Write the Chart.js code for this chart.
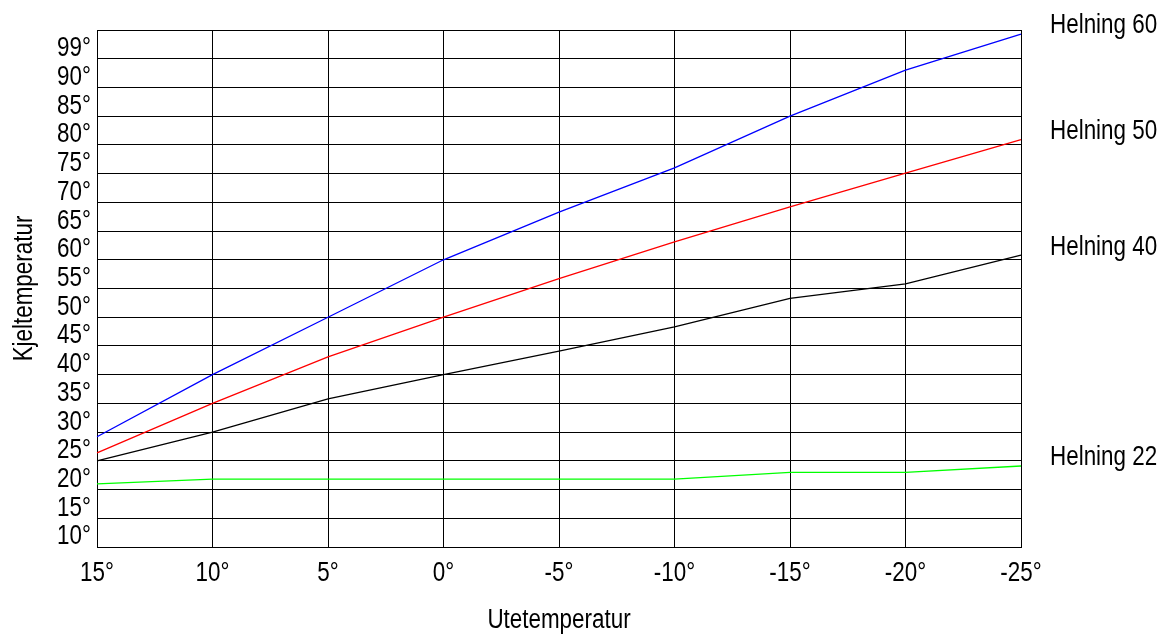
<!DOCTYPE html>
<html>
<head>
<meta charset="utf-8">
<script src="https://cdn.jsdelivr.net/npm/chart.js@4.4.1/dist/chart.umd.min.js"></script>
<style>
  html, body { margin: 0; padding: 0; background: #fff; }
  #wrap { width: 1167px; height: 634px; position: relative; }
</style>
</head>
<body>
<div id="wrap"><canvas id="heatCanvas"></canvas></div>
<script>
// Outdoor temperature categories (x axis)
const outdoorTemps = ['15°', '10°', '5°', '0°', '-5°', '-10°', '-15°', '-20°', '-25°'];

// Boiler temperature tick labels, one per grid line from 10 up to 100 (the top line has none)
const yTickValues = [10, 15, 20, 25, 30, 35, 40, 45, 50, 55, 60, 65, 70, 75, 80, 85, 90, 95, 100];
const yTickLabels = ['10°', '15°', '20°', '25°', '30°', '35°', '40°', '45°', '50°', '55°', '60°', '65°', '70°', '75°', '80°', '85°', '90°', '99°', ''];

// Heating curves
const helning60 = [29.2, 40, 50, 60, 68.3, 76, 85, 93, 99.3];
const helning50 = [26.4, 35, 43.1, 50, 56.7, 63.1, 69.2, 75.1, 80.9];
const helning40 = [25, 30, 35.8, 40, 44.1, 48.3, 53.3, 55.8, 60.8];
const helning22 = [21, 21.8, 21.8, 21.8, 21.8, 21.8, 23, 23, 24.1];

const seriesNames = ['Helning 60', 'Helning 50', 'Helning 40', 'Helning 22'];

const FONT = "'Liberation Sans Narrow', 'Arial Narrow', 'Liberation Sans', Arial, sans-serif";
const NARROW = 0.83; // no narrow font installed, so squeeze the regular one
Chart.defaults.font.family = FONT;
Chart.defaults.color = '#000';

function narrowText(ctx, text, x, y, align, angle) {
    ctx.save();
    ctx.translate(x, y);
    if (angle) ctx.rotate(angle);
    ctx.scale(NARROW, 1);
    ctx.textAlign = align;
    ctx.fillText(text, 0, 0);
    ctx.restore();
}

// Draws tick labels, axis titles and the curve names in a narrow face
const textPlugin = {
    id: 'textPlugin',
    afterDraw(chart) {
        const ctx = chart.ctx;
        const area = chart.chartArea;
        const xScale = chart.scales.x;
        const yScale = chart.scales.y;
        ctx.save();
        ctx.fillStyle = '#000';
        ctx.font = '27px ' + FONT;
        ctx.textBaseline = 'middle';

        // y tick labels sit just above their grid line
        yTickValues.forEach((v, i) => {
            narrowText(ctx, yTickLabels[i], area.left - 6, yScale.getPixelForValue(v) - 10, 'right');
        });

        // x tick labels
        outdoorTemps.forEach((t, i) => {
            narrowText(ctx, t, xScale.getPixelForValue(i), area.bottom + 27, 'center');
        });

        // curve names, slightly above the end of each line
        chart.data.datasets.forEach(ds => {
            const last = ds.data[ds.data.length - 1];
            narrowText(ctx, ds.label, area.right + 29, yScale.getPixelForValue(last) - 8, 'left');
        });

        // axis titles
        narrowText(ctx, 'Utetemperatur', (area.left + area.right) / 2, 621, 'center');
        narrowText(ctx, 'Kjeltemperatur', 25, (area.top + area.bottom) / 2, 'center', -Math.PI / 2);
        ctx.restore();
    }
};

function line(label, data, color) {
    return {
        label: label,
        data: data,
        borderColor: color,
        backgroundColor: color,
        borderWidth: 1.3,
        pointRadius: 0,
        tension: 0,
        fill: false
    };
}

const ctx = document.getElementById('heatCanvas').getContext('2d');
const heatChart = new Chart(ctx, {
    type: 'line',
    data: {
        labels: outdoorTemps,
        datasets: [
            line(seriesNames[0], helning60, '#0000ff'),
            line(seriesNames[1], helning50, '#ff0000'),
            line(seriesNames[2], helning40, '#000000'),
            line(seriesNames[3], helning22, '#00ff00')
        ]
    },
    options: {
        responsive: true,
        maintainAspectRatio: false,
        animation: false,
        layout: {
            padding: { top: 30, right: 146, left: 0, bottom: 0 }
        },
        plugins: {
            legend: { display: false },
            tooltip: { enabled: false }
        },
        scales: {
            x: {
                offset: false,
                grid: { color: '#000', lineWidth: 1, drawTicks: false },
                border: { color: '#000', width: 1 },
                ticks: { display: false, autoSkip: false },
                afterFit(scale) { scale.height = 87; }
            },
            y: {
                min: 10,
                max: 100,
                grid: { color: '#000', lineWidth: 1, drawTicks: false },
                border: { color: '#000', width: 1 },
                afterBuildTicks(scale) {
                    scale.ticks = yTickValues.map(v => ({ value: v }));
                },
                ticks: { display: false, autoSkip: false },
                afterFit(scale) { scale.width = 97; }
            }
        }
    },
    plugins: [textPlugin]
});
</script>
</body>
</html>
